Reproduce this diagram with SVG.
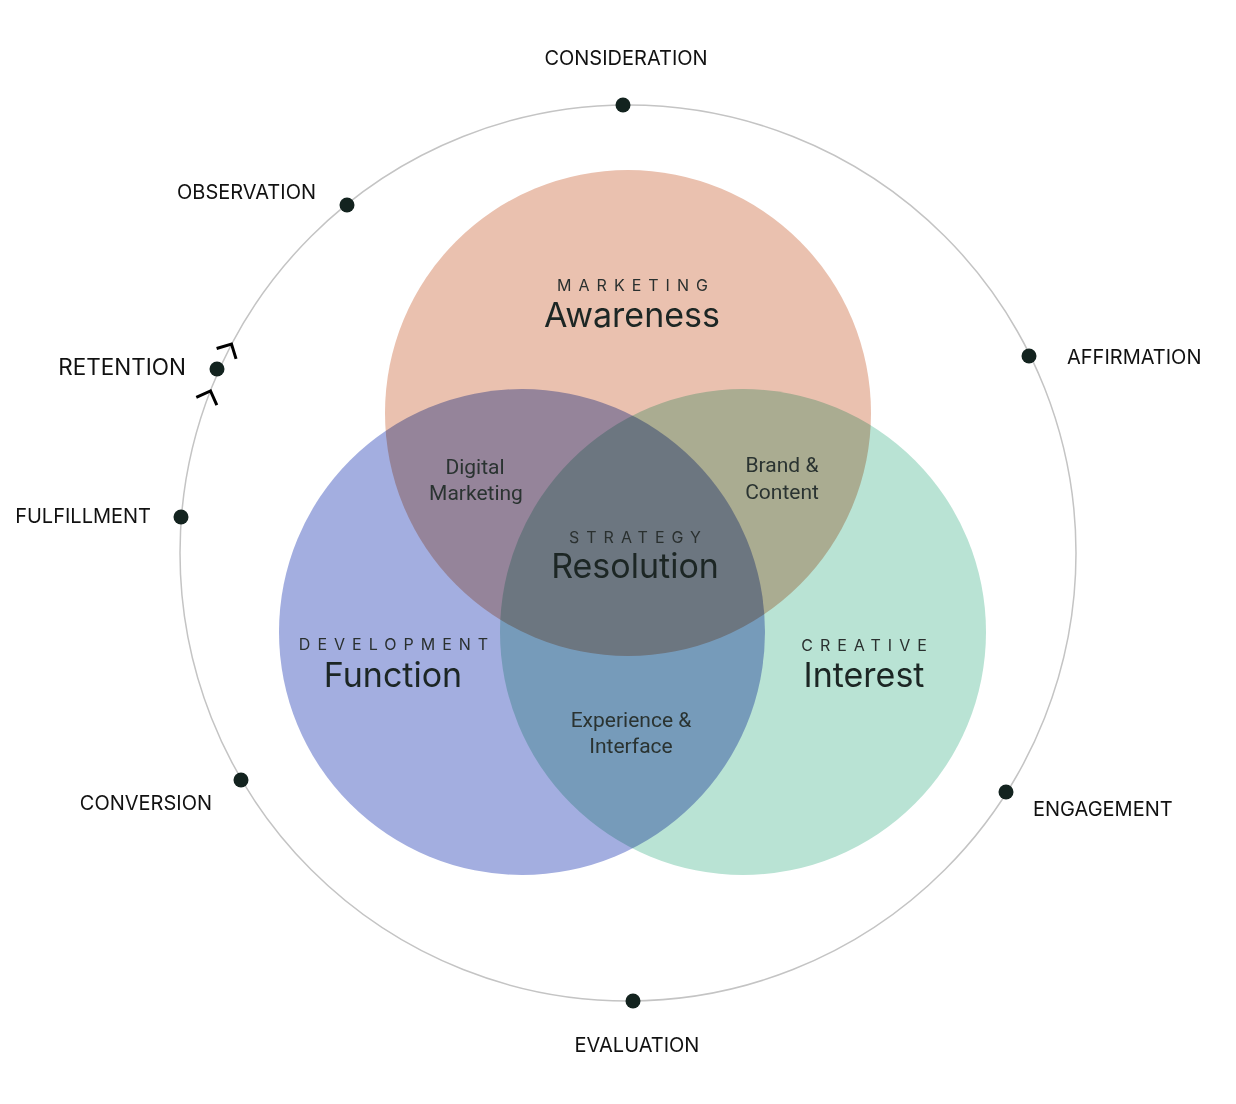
<svg xmlns="http://www.w3.org/2000/svg" width="1236" height="1104" viewBox="0 0 1236 1104">
<style>
.ring{fill:none;stroke:#c4c4c4;stroke-width:1.5}
.dot{fill:#13231f}
.stage{font-family:Inter,"Liberation Sans",sans-serif;font-size:20px;fill:#111;letter-spacing:0px}
.venn{mix-blend-mode:multiply}
.cap{font-family:Inter,"Liberation Sans",sans-serif;font-size:16px;fill:#2a302f;letter-spacing:7px;text-anchor:middle}
.big{font-family:Inter,"Liberation Sans",sans-serif;font-size:34px;fill:#1c2624;text-anchor:middle}
.small{font-family:Roboto,"Liberation Sans",sans-serif;font-size:21px;fill:#2a3331;text-anchor:middle}
.chev{fill:none;stroke:#000;stroke-width:3}
</style>
<rect width="1236" height="1104" fill="#fff"/>
<g id="venn" style="isolation:isolate">
  <g id="node-awareness"><circle class="venn" cx="628" cy="413" r="243" fill="#eac1af"/></g>
  <g id="node-function"><circle class="venn" cx="522" cy="632" r="243" fill="#a3aee0"/></g>
  <g id="node-interest"><circle class="venn" cx="743" cy="632" r="243" fill="#b9e3d4"/></g>
</g>
<g id="connectors">
  <circle class="ring" cx="628" cy="553" r="448"/>
  <path class="chev" d="M-11,-11 L0,0 L-11,11" transform="translate(231.5,344) rotate(-62)"/>
  <path class="chev" d="M-11,-11 L0,0 L-11,11" transform="translate(210.5,391) rotate(-69)"/>
</g>
<g id="stage-consideration"><circle class="dot" cx="623" cy="105" r="7.5"/><text class="stage" x="626" y="65" text-anchor="middle">CONSIDERATION</text></g>
<g id="stage-observation"><circle class="dot" cx="347" cy="205" r="7.5"/><text class="stage" x="316" y="199" text-anchor="end">OBSERVATION</text></g>
<g id="stage-retention"><circle class="dot" cx="217" cy="369" r="7.5"/><text class="stage" x="186" y="375" text-anchor="end" style="font-size:22.5px">RETENTION</text></g>
<g id="stage-fulfillment"><circle class="dot" cx="181" cy="517" r="7.5"/><text class="stage" x="151" y="523" text-anchor="end">FULFILLMENT</text></g>
<g id="stage-conversion"><circle class="dot" cx="241" cy="780" r="7.5"/><text class="stage" x="212" y="810" text-anchor="end">CONVERSION</text></g>
<g id="stage-evaluation"><circle class="dot" cx="633" cy="1001" r="7.5"/><text class="stage" x="637" y="1052" text-anchor="middle">EVALUATION</text></g>
<g id="stage-engagement"><circle class="dot" cx="1006" cy="792" r="7.5"/><text class="stage" x="1033" y="816">ENGAGEMENT</text></g>
<g id="stage-affirmation"><circle class="dot" cx="1029" cy="356" r="7.5"/><text class="stage" x="1067" y="364">AFFIRMATION</text></g>
<g id="label-awareness"><text class="cap" x="636" y="291">MARKETING</text><text class="big" x="632" y="327">Awareness</text></g>
<g id="label-digital"><text class="small" x="475" y="474">Digital</text><text class="small" x="476" y="500">Marketing</text></g>
<g id="label-brand"><text class="small" x="782" y="472">Brand &amp;</text><text class="small" x="782" y="499">Content</text></g>
<g id="label-resolution"><text class="cap" x="638.5" y="543">STRATEGY</text><text class="big" x="635" y="578">Resolution</text></g>
<g id="label-function"><text class="cap" x="397" y="650">DEVELOPMENT</text><text class="big" x="393" y="687">Function</text></g>
<g id="label-interest"><text class="cap" x="867.5" y="651">CREATIVE</text><text class="big" x="864" y="687">Interest</text></g>
<g id="label-experience"><text class="small" x="631" y="727">Experience &amp;</text><text class="small" x="631" y="753">Interface</text></g>
</svg>
